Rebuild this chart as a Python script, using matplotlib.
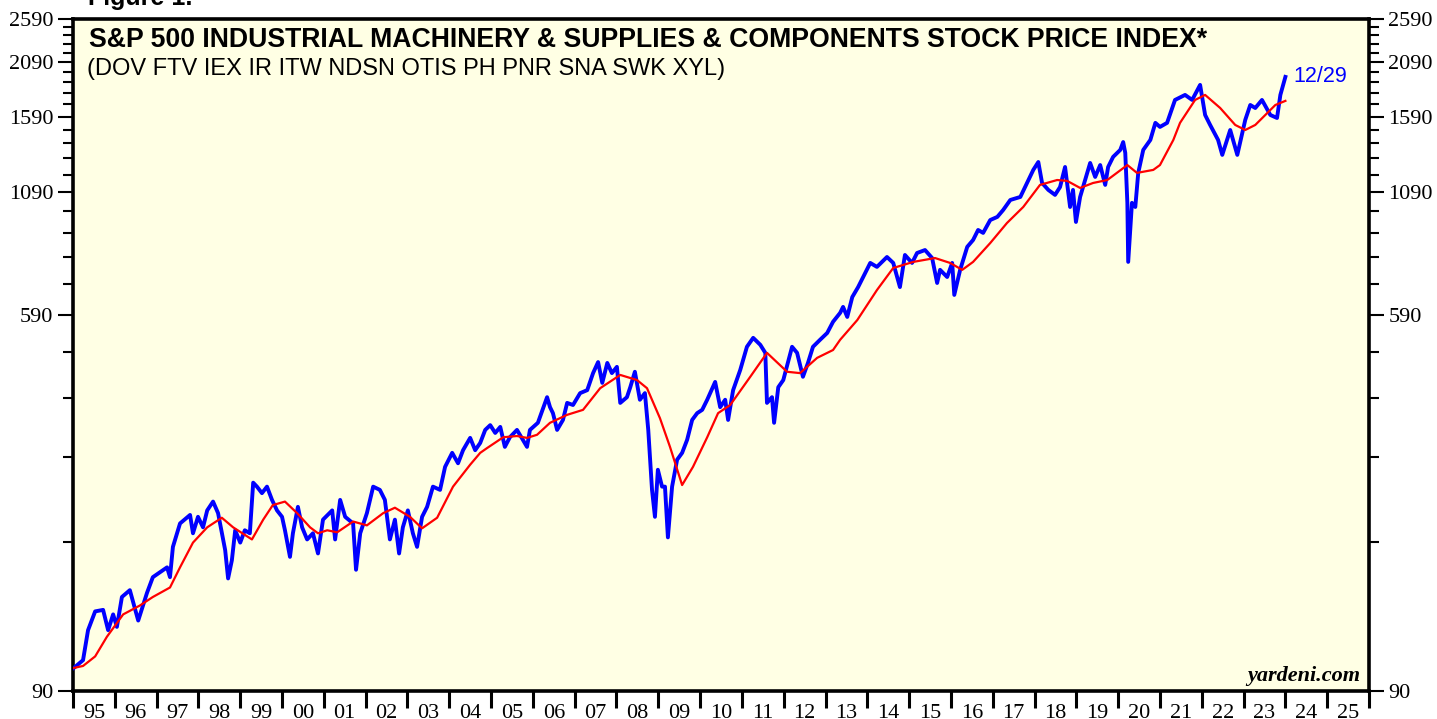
import numpy as np
import matplotlib
matplotlib.use('Agg')
import matplotlib.pyplot as plt

# index level (blue), time in decimal years
price_t = [1995.02, 1995.24, 1995.36, 1995.53, 1995.72, 1995.84, 1995.96, 1996.05, 1996.17, 1996.36,
           1996.56, 1996.77, 1996.91, 1997.25, 1997.32, 1997.39, 1997.56, 1997.80, 1997.87, 1997.99,
           1998.11, 1998.21, 1998.35, 1998.47, 1998.64, 1998.71, 1998.80, 1998.88, 1999.00, 1999.11,
           1999.23, 1999.31, 1999.40, 1999.52, 1999.64, 1999.76, 1999.88, 2000.00, 2000.07, 2000.19,
           2000.26, 2000.38, 2000.48, 2000.60, 2000.74, 2000.86, 2000.98, 2001.20, 2001.27, 2001.39,
           2001.51, 2001.70, 2001.77, 2001.87, 2002.03, 2002.18, 2002.34, 2002.46, 2002.58, 2002.70,
           2002.80, 2002.89, 2003.01, 2003.13, 2003.23, 2003.35, 2003.47, 2003.61, 2003.78, 2003.90,
           2004.07, 2004.21, 2004.33, 2004.50, 2004.62, 2004.74, 2004.86, 2004.98, 2005.10, 2005.22,
           2005.33, 2005.45, 2005.62, 2005.86, 2005.93, 2006.12, 2006.34, 2006.41, 2006.48, 2006.58,
           2006.72, 2006.82, 2006.96, 2007.13, 2007.30, 2007.44, 2007.56, 2007.66, 2007.78, 2007.89,
           2008.01, 2008.09, 2008.25, 2008.33, 2008.44, 2008.56, 2008.68, 2008.76, 2008.85, 2008.92,
           2008.99, 2009.09, 2009.16, 2009.23, 2009.33, 2009.45, 2009.57, 2009.69, 2009.81, 2009.93,
           2010.05, 2010.17, 2010.36, 2010.48, 2010.60, 2010.67, 2010.79, 2010.96, 2011.12, 2011.27,
           2011.44, 2011.56, 2011.60, 2011.72, 2011.77, 2011.87, 2011.99, 2012.20, 2012.32, 2012.46,
           2012.58, 2012.70, 2012.87, 2013.04, 2013.18, 2013.35, 2013.42, 2013.52, 2013.64, 2013.78,
           2013.90, 2014.07, 2014.23, 2014.47, 2014.62, 2014.78, 2014.90, 2015.07, 2015.19, 2015.38,
           2015.55, 2015.67, 2015.74, 2015.91, 2016.03, 2016.08, 2016.22, 2016.39, 2016.53, 2016.65,
           2016.77, 2016.94, 2017.11, 2017.25, 2017.42, 2017.66, 2017.82, 2017.97, 2018.09, 2018.18,
           2018.33, 2018.49, 2018.61, 2018.73, 2018.85, 2018.92, 2018.99, 2019.09, 2019.21, 2019.33,
           2019.45, 2019.57, 2019.69, 2019.76, 2019.88, 2020.05, 2020.12, 2020.17, 2020.22, 2020.24,
           2020.33, 2020.41, 2020.48, 2020.60, 2020.77, 2020.89, 2021.00, 2021.17, 2021.36, 2021.60,
           2021.77, 2021.96, 2022.08, 2022.20, 2022.39, 2022.49, 2022.68, 2022.85, 2023.04, 2023.16,
           2023.28, 2023.44, 2023.64, 2023.80, 2023.88, 2024.00]
price_v = [101, 105, 122, 134, 135, 122, 132, 124, 144, 149,
           128, 147, 159, 167, 159, 185, 208, 217, 198, 215,
           204, 222, 232, 219, 182, 158, 173, 201, 189, 201,
           198, 255, 250, 242, 250, 234, 222, 215, 201, 176,
           198, 226, 204, 192, 198, 179, 212, 222, 192, 234,
           215, 208, 165, 198, 219, 250, 246, 234, 192, 212,
           179, 204, 222, 198, 185, 215, 226, 250, 246, 276,
           296, 281, 300, 319, 300, 311, 332, 340, 327, 337,
           305, 320, 332, 305, 332, 344, 391, 372, 361, 332,
           349, 380, 376, 399, 405, 441, 466, 420, 464, 441,
           455, 380, 391, 411, 444, 386, 399, 332, 246, 215,
           272, 250, 250, 194, 250, 286, 296, 316, 349, 361,
           367, 386, 422, 372, 386, 349, 405, 448, 503, 526,
           508, 488, 380, 391, 344, 411, 426, 503, 488, 433,
           464, 503, 521, 539, 570, 596, 614, 584, 645, 678,
           713, 765, 750, 788, 765, 678, 796, 765, 804, 816,
           784, 692, 739, 713, 765, 652, 739, 829, 858, 902,
           889, 948, 963, 997, 1048, 1064, 1141, 1218, 1267, 1141,
           1102, 1075, 1118, 1236, 1012, 1102, 939, 1064, 1158, 1261,
           1176, 1248, 1130, 1236, 1300, 1346, 1400, 1326, 1033, 769,
           1033, 1012, 1200, 1346, 1415, 1541, 1510, 1541, 1728, 1772,
           1728, 1863, 1603, 1525, 1415, 1313, 1487, 1313, 1564, 1685,
           1660, 1728, 1603, 1579, 1772, 1939]

# moving average (red)
ma_t = [1995.02, 1995.24, 1995.53, 1995.81, 1996.20, 1996.60, 1996.91, 1997.32, 1997.56, 1997.87,
        1998.21, 1998.56, 1998.83, 1999.28, 1999.55, 1999.78, 2000.07, 2000.36, 2000.67, 2000.86,
        2001.08, 2001.32, 2001.70, 2002.03, 2002.42, 2002.70, 2003.06, 2003.35, 2003.71, 2004.09,
        2004.50, 2004.74, 2004.90, 2005.29, 2005.62, 2005.86, 2006.10, 2006.41, 2006.82, 2007.20,
        2007.61, 2008.09, 2008.49, 2008.73, 2009.04, 2009.28, 2009.57, 2009.83, 2010.17, 2010.43,
        2010.72, 2011.20, 2011.60, 2012.08, 2012.39, 2012.80, 2013.18, 2013.35, 2013.76, 2014.23,
        2014.62, 2015.10, 2015.62, 2015.98, 2016.27, 2016.53, 2016.94, 2017.34, 2017.73, 2018.13,
        2018.54, 2018.78, 2019.09, 2019.40, 2019.74, 2020.22, 2020.45, 2020.84, 2021.00, 2021.32,
        2021.48, 2021.84, 2022.08, 2022.44, 2022.80, 2023.04, 2023.28, 2023.52, 2023.76, 2024.00]
ma_v = [101, 102, 107, 118, 132, 138, 144, 151, 167, 189,
        204, 214, 204, 192, 212, 228, 232, 219, 204, 198,
        201, 199, 210, 206, 219, 225, 215, 203, 214, 250,
        279, 296, 303, 320, 322, 319, 324, 344, 358, 367,
        409, 437, 426, 409, 352, 305, 252, 276, 320, 361,
        376, 433, 488, 444, 441, 476, 495, 521, 575, 668,
        746, 769, 784, 765, 739, 769, 845, 934, 1012, 1130,
        1158, 1153, 1113, 1141, 1158, 1248, 1200, 1218, 1248, 1415,
        1541, 1728, 1772, 1660, 1525, 1487, 1525, 1603, 1685, 1720]

years = list(range(1995, 2027))
year_labels = ['95', '96', '97', '98', '99', '00', '01', '02', '03', '04', '05', '06', '07', '08',
               '09', '10', '11', '12', '13', '14', '15', '16', '17', '18', '19', '20', '21', '22',
               '23', '24', '25']
y_major = [90, 590, 1090, 1590, 2090, 2590]
y_minor = [v for v in range(190, 2590, 100) if v not in y_major]

SERIF = 'Liberation Serif'
SANS = 'Liberation Sans'

fig = plt.figure(figsize=(14.37, 7.19), dpi=100)
ax = fig.add_axes([73 / 1437, 28 / 719, (1369 - 73) / 1437, (691 - 19) / 719])
ax.set_facecolor('#FFFFE4')

ax.plot(price_t, price_v, color='#0000FF', lw=2.8, zorder=3)
ax.plot(ma_t, ma_v, color='#FF0000', lw=1.6, zorder=4)

ax.set_yscale('log')
ax.set_ylim(90, 2590)
ax.set_xlim(1995, 2026)

# y axis, both sides
ax.set_yticks(y_major)
ax.set_yticklabels([str(v) for v in y_major])
ax.set_yticks(y_minor, minor=True)
ax.yaxis.set_minor_formatter(matplotlib.ticker.NullFormatter())
ax.tick_params(axis='y', which='both', left=True, right=True, labelleft=True, labelright=True,
               direction='out', width=1.5, labelsize=16)
ax.tick_params(axis='y', which='major', length=11, pad=3)
ax.tick_params(axis='y', which='minor', length=7)

# x axis: year boundaries as ticks, labels centered in between
ax.set_xticks(years)
ax.set_xticklabels([''] * len(years))
ax.set_xticks([y + 0.5 for y in years[:-1]], minor=True)
ax.set_xticklabels(year_labels, minor=True)
ax.tick_params(axis='x', which='major', direction='out', length=12, width=2.2)
ax.tick_params(axis='x', which='minor', length=0, labelsize=16, pad=9)

for lab in ax.get_xticklabels(which='both') + ax.get_yticklabels(which='both'):
    lab.set_family(SERIF)

for s in ax.spines.values():
    s.set_linewidth(2.6)
    s.set_color('black')

ax.text(0.012, 0.988, 'S&P 500 INDUSTRIAL MACHINERY & SUPPLIES & COMPONENTS STOCK PRICE INDEX*',
        transform=ax.transAxes, ha='left', va='top', fontsize=19.2, fontweight='bold', family=SANS)
ax.text(0.011, 0.942, '(DOV FTV IEX IR ITW NDSN OTIS PH PNR SNA SWK XYL)',
        transform=ax.transAxes, ha='left', va='top', fontsize=17, family=SANS)
ax.text(2024.2, price_v[-1], '12/29', color='#0000FF', fontsize=15.5, family=SANS,
        ha='left', va='center')
ax.text(0.993, 0.008, 'yardeni.com', transform=ax.transAxes, ha='right', va='bottom',
        fontsize=16, fontweight='bold', style='italic', family=SERIF)

fig.text(88 / 1437, 1 - 5 / 719, 'Figure 1.', ha='left', va='baseline', fontsize=18,
         fontweight='bold', family=SANS)

fig.savefig('out.png', dpi=100, facecolor='white')
